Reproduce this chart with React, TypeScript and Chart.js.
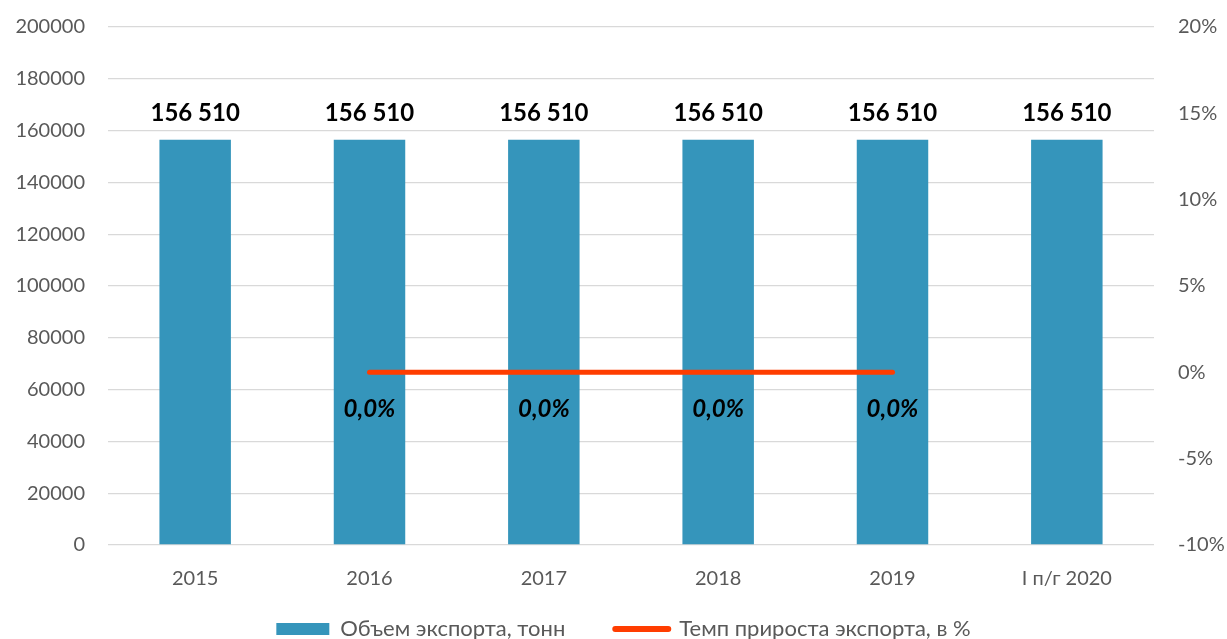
import React, { useEffect, useRef } from "react";
import { Chart, registerables } from "chart.js";

Chart.register(...registerables);

const categories = ["2015", "2016", "2017", "2018", "2019", "I п/г 2020"];
const exportVolume = [156510, 156510, 156510, 156510, 156510, 156510];
const growthRate = [null, 0.0, 0.0, 0.0, 0.0, null];
const seriesNames = ["Объем экспорта, тонн", "Темп прироста экспорта, в %"];
const leftTicks = { min: 0, max: 200000, step: 20000 };
const rightTicks = { min: -10, max: 20, step: 5 };

const BAR_COLOR = "#3595BB";
const LINE_COLOR = "#FF3D00";
const TEXT_COLOR = "#595959";
const FONT = "Lato, 'Noto Sans', sans-serif";

const labelPlugin = {
  id: "valueLabels",
  afterLayout(chart: any) {
    const lg = chart.legend;
    if (lg) {
      const h = lg.height;
      lg.top = 568;
      lg.bottom = 568 + h;
      lg.left = 20;
    }
  },
  afterDatasetsDraw(chart: any) {
    const ctx = chart.ctx;
    ctx.save();
    ctx.textAlign = "center";
    ctx.textBaseline = "alphabetic";
    ctx.fillStyle = "#000000";
    const barMeta = chart.getDatasetMeta(0);
    ctx.font = `bold 24px ${FONT}`;
    barMeta.data.forEach((el: any, i: number) => {
      const v = exportVolume[i];
      const txt = String(v).replace(/\B(?=(\d{3})+(?!\d))/g, " ");
      ctx.fillText(txt, el.x, el.y - 19);
    });
    const lineMeta = chart.getDatasetMeta(1);
    ctx.font = `italic bold 24px ${FONT}`;
    ctx.textBaseline = "middle";
    lineMeta.data.forEach((el: any, i: number) => {
      const v = growthRate[i];
      if (v === null || v === undefined) return;
      const txt = v.toFixed(1).replace(".", ",") + "%";
      ctx.fillText(txt, el.x, el.y + 37);
    });
    ctx.restore();
  },
};

export default function App() {
  const ref = useRef<HTMLCanvasElement | null>(null);
  useEffect(() => {
    if (!ref.current) return;
    const chart = new Chart(ref.current, {
      type: "bar",
      data: {
        labels: categories,
        datasets: [
          {
            type: "bar",
            label: seriesNames[0],
            data: exportVolume,
            backgroundColor: BAR_COLOR,
            yAxisID: "y",
            barPercentage: 0.41,
            categoryPercentage: 1,
            order: 1,
          },
          {
            type: "line",
            label: seriesNames[1],
            data: growthRate as any,
            borderColor: LINE_COLOR,
            backgroundColor: LINE_COLOR,
            borderWidth: 5,
            borderCapStyle: "round",
            pointRadius: 0,
            yAxisID: "y1",
            spanGaps: false,
            order: 0,
          } as any,
        ],
      },
      options: {
        animation: false,
        responsive: false,
        maintainAspectRatio: false,
        layout: { padding: { top: 27, bottom: -40, left: 0, right: 0 } },
        plugins: {
          tooltip: { enabled: false },
          legend: {
            position: "bottom",
            labels: {
              usePointStyle: true,
              pointStyleWidth: 53,
              boxHeight: 12,
              padding: 50,
              color: TEXT_COLOR,
              font: { family: FONT, size: 22 },
              generateLabels: () => [
                {
                  text: seriesNames[0],
                  fillStyle: BAR_COLOR,
                  strokeStyle: BAR_COLOR,
                  lineWidth: 0,
                  pointStyle: "rect",
                  datasetIndex: 0,
                  hidden: false,
                  fontColor: TEXT_COLOR,
                } as any,
                {
                  text: seriesNames[1],
                  fillStyle: LINE_COLOR,
                  strokeStyle: LINE_COLOR,
                  lineWidth: 6,
                  lineCap: "round",
                  pointStyle: "line",
                  datasetIndex: 1,
                  hidden: false,
                  fontColor: TEXT_COLOR,
                } as any,
              ],
            },
          },
        },
        scales: {
          x: {
            grid: { display: false },
            border: { display: false },
            ticks: { color: TEXT_COLOR, font: { family: FONT, size: 20 }, padding: 14 },
            afterFit: (s: any) => {
              s.height = 52;
            },
          },
          y: {
            position: "left",
            min: leftTicks.min,
            max: leftTicks.max,
            ticks: {
              stepSize: leftTicks.step,
              color: TEXT_COLOR,
              font: { family: FONT, size: 20 },
              padding: 3,
              callback: (v: any) => String(v),
            },
            grid: {
              color: "#D9D9D9",
              lineWidth: 1.3,
              drawTicks: true,
              tickLength: 20,
              tickColor: "rgba(0,0,0,0)",
            },
            border: { display: false },
            afterFit: (s: any) => {
              s.width = 108;
            },
          },
          y1: {
            position: "right",
            min: rightTicks.min,
            max: rightTicks.max,
            ticks: {
              stepSize: rightTicks.step,
              color: TEXT_COLOR,
              font: { family: FONT, size: 20 },
              padding: 3,
              callback: (v: any) => v + "%",
            },
            grid: {
              drawOnChartArea: false,
              drawTicks: true,
              tickLength: 21,
              tickColor: "rgba(0,0,0,0)",
            },
            border: { display: false },
            afterFit: (s: any) => {
              s.width = 73;
            },
          },
        },
      },
      plugins: [labelPlugin],
    });
    return () => chart.destroy();
  }, []);
  return (
    <div style={{ position: "absolute", left: 0, top: 0, width: 1227, height: 639 }}>
      <canvas ref={ref} width={1227} height={639} style={{ width: 1227, height: 639 }} />
    </div>
  );
}
